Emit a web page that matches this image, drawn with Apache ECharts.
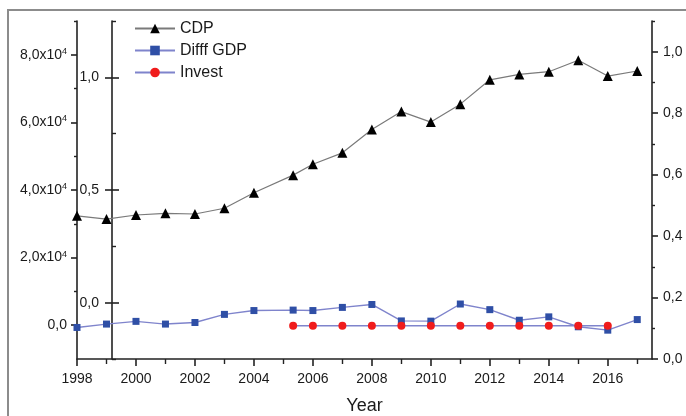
<!DOCTYPE html>
<html>
<head>
<meta charset="utf-8">
<script src="https://cdn.jsdelivr.net/npm/echarts@6/dist/echarts.min.js"></script>
<style>
  html, body { margin: 0; padding: 0; background: #fff; }
  #chart { width: 686px; height: 416px; }
</style>
</head>
<body>
<div id="chart"></div>
<script>
// Sampling years (one mid-2005 observation)
const years = [1998, 1999, 2000, 2001, 2002, 2003, 2004, 2005.33, 2006, 2007,
               2008, 2009, 2010, 2011, 2012, 2013, 2014, 2015, 2016, 2017];
// CDP, left axis
const cdp = [32350, 31400, 32600, 33100, 32900, 34600, 39200, 44400, 47600, 51000,
             57900, 63200, 60100, 65400, 72600, 74200, 75000, 78400, 73700, 75200];
// Difff GDP, inner axis
const diffGdp = [-0.110, -0.095, -0.083, -0.095, -0.088, -0.052, -0.035, -0.033, -0.035, -0.021,
                 -0.008, -0.081, -0.082, -0.006, -0.031, -0.078, -0.063, -0.107, -0.122, -0.075];
// Invest, right axis
const investYears = [2005.33, 2006, 2007, 2008, 2009, 2010, 2011, 2012, 2013, 2014, 2015, 2016];
const invest = [0.108, 0.108, 0.108, 0.108, 0.108, 0.108, 0.108, 0.108, 0.108, 0.108, 0.108, 0.108];

// Tick positions
const xMajor = [1998, 2000, 2002, 2004, 2006, 2008, 2010, 2012, 2014, 2016];
const xMinor = [1999, 2001, 2003, 2005, 2007, 2009, 2011, 2013, 2015, 2017];
const leftMajor = [0, 20000, 40000, 60000, 80000];
const leftMinor = [10000, 30000, 50000, 70000, 90000];
const innerMajor = [0, 0.5, 1.0];
const innerMinor = [-0.25, 0.25, 0.75, 1.25];
const rightMajor = [0, 0.2, 0.4, 0.6, 0.8, 1.0];
const rightMinor = [0.1, 0.3, 0.5, 0.7, 0.9, 1.1];

const FONT = "'Liberation Sans', Arial, sans-serif";
const TXT = '#1a1a1a';
const AX = '#222';

const comma = v => v.toFixed(1).replace('.', ',');
const pairs = (xs, ys) => xs.map((x, i) => [x, ys[i]]);

const chart = echarts.init(document.getElementById('chart'), null, { renderer: 'canvas' });

const lineAxis = { show: true, onZero: false, lineStyle: { color: AX, width: 1.6 } };
const noLine = { show: false, onZero: false };

chart.setOption({
  animation: false,
  backgroundColor: '#fff',
  textStyle: { fontFamily: FONT },
  graphic: [{
    type: 'rect',
    shape: { x: 8, y: 10, width: 720, height: 440 },
    style: { fill: 'none', stroke: '#8c8c8c', lineWidth: 2 },
    silent: true, z: -1
  }],
  grid: { left: 77, right: 34, top: 21, bottom: 57, containLabel: false, outerBoundsMode: 'none' },
  legend: {
    orient: 'vertical',
    left: 129, top: 15,
    itemWidth: 40, itemHeight: 12, itemGap: 5,
    textStyle: { fontFamily: FONT, fontSize: 16, color: TXT, lineHeight: 17 },
    data: ['CDP', 'Difff GDP', 'Invest']
  },
  xAxis: [{
    type: 'value', min: 1998, max: 2017.5, position: 'bottom',
    axisLine: lineAxis,
    axisTick: { show: true, customValues: xMajor, length: 7, lineStyle: { color: AX, width: 1.6 } },
    axisLabel: { customValues: xMajor, margin: 13, fontSize: 14, color: TXT, fontFamily: FONT,
                 formatter: v => String(v) },
    splitLine: { show: false },
    name: 'Year', nameLocation: 'middle', nameGap: 38,
    nameTextStyle: { fontSize: 18, color: TXT, fontFamily: FONT }
  }, {
    type: 'value', min: 1998, max: 2017.5, position: 'bottom',
    axisLine: noLine,
    axisTick: { show: true, customValues: xMinor, length: 5, lineStyle: { color: AX, width: 1.4 } },
    axisLabel: { show: false },
    splitLine: { show: false }
  }],
  yAxis: [{
    // 0: left, absolute scale
    type: 'value', min: -10000, max: 90000, position: 'left',
    axisLine: lineAxis,
    axisTick: { show: true, customValues: leftMajor, length: 6, lineStyle: { color: AX, width: 1.6 } },
    axisLabel: {
      customValues: leftMajor, margin: 10, color: TXT, fontFamily: FONT, fontSize: 14,
      formatter: v => v === 0 ? '0,0' : '{m|' + comma(v / 10000) + 'x10}{e|4}',
      rich: {
        m: { fontSize: 14, lineHeight: 16, color: TXT, fontFamily: FONT },
        e: { fontSize: 9, lineHeight: 9, verticalAlign: 'top', color: TXT, fontFamily: FONT }
      }
    },
    splitLine: { show: false }
  }, {
    // 1: left minor ticks
    type: 'value', min: -10000, max: 90000, position: 'left',
    axisLine: noLine,
    axisTick: { show: true, customValues: leftMinor, length: 3, lineStyle: { color: AX, width: 1.4 } },
    axisLabel: { show: false }, splitLine: { show: false }
  }, {
    // 2: inner axis, outward major ticks and labels
    type: 'value', min: -0.25, max: 1.25, position: 'left', offset: -35,
    axisLine: lineAxis,
    axisTick: { show: true, customValues: innerMajor, length: 7, lineStyle: { color: AX, width: 1.6 } },
    axisLabel: { customValues: innerMajor, margin: 13, fontSize: 14, color: TXT, fontFamily: FONT,
                 formatter: v => comma(v) },
    splitLine: { show: false }
  }, {
    // 3: inner axis, inward major ticks
    type: 'value', min: -0.25, max: 1.25, position: 'left', offset: -35,
    axisLine: noLine,
    axisTick: { show: true, inside: true, customValues: innerMajor, length: 7, lineStyle: { color: AX, width: 1.6 } },
    axisLabel: { show: false }, splitLine: { show: false }
  }, {
    // 4: inner axis, inward minor ticks
    type: 'value', min: -0.25, max: 1.25, position: 'left', offset: -35,
    axisLine: noLine,
    axisTick: { show: true, inside: true, customValues: innerMinor, length: 4, lineStyle: { color: AX, width: 1.4 } },
    axisLabel: { show: false }, splitLine: { show: false }
  }, {
    // 5: right axis
    type: 'value', min: 0, max: 1.1, position: 'right',
    axisLine: lineAxis,
    axisTick: { show: true, customValues: rightMajor, length: 6, lineStyle: { color: AX, width: 1.6 } },
    axisLabel: { customValues: rightMajor, margin: 11, fontSize: 14, color: TXT, fontFamily: FONT,
                 formatter: v => comma(v) },
    splitLine: { show: false }
  }, {
    // 6: right minor ticks
    type: 'value', min: 0, max: 1.1, position: 'right',
    axisLine: noLine,
    axisTick: { show: true, customValues: rightMinor, length: 3, lineStyle: { color: AX, width: 1.4 } },
    axisLabel: { show: false }, splitLine: { show: false }
  }],
  series: [{
    name: 'CDP', type: 'line', xAxisIndex: 0, yAxisIndex: 0,
    data: pairs(years, cdp),
    symbol: 'triangle', symbolSize: 10, showAllSymbol: true,
    itemStyle: { color: '#000' },
    lineStyle: { color: '#7a7a7a', width: 1.2 }
  }, {
    name: 'Difff GDP', type: 'line', xAxisIndex: 0, yAxisIndex: 2,
    data: pairs(years, diffGdp),
    symbol: 'rect', symbolSize: 7, showAllSymbol: true,
    itemStyle: { color: '#2f4fa6' },
    lineStyle: { color: '#7f84cc', width: 1.4 }
  }, {
    name: 'Invest', type: 'line', xAxisIndex: 0, yAxisIndex: 5,
    data: pairs(investYears, invest),
    symbol: 'circle', symbolSize: 8, showAllSymbol: true,
    itemStyle: { color: '#f01c1c' },
    lineStyle: { color: '#7f84cc', width: 1.4 }
  }]
});
</script>
</body>
</html>
